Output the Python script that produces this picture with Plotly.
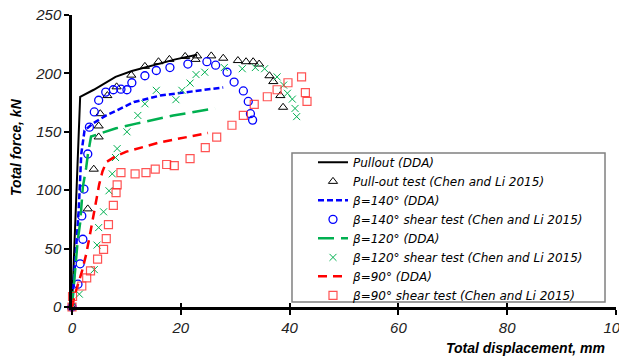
import plotly.graph_objects as go

# ---- data ----
pull_dda_x = [0, 0.5, 1.5, 4, 8, 11, 15, 19, 23]
pull_dda_y = [0, 60, 180, 186, 197, 202, 207, 212, 216]

pull_test_x = [0, 2.9, 4.0, 4.9, 4.9, 5.2, 6.5, 8.2, 10.9, 13.4, 15.9, 17.9, 20.8, 22.7, 23.0,
               25.6, 27.8, 30.5, 32.0, 33.3, 34.4, 36.3, 37.0, 38.3, 38.8]
pull_test_y = [0, 84, 118, 145.6, 155, 165.5, 181, 188.5, 198.5, 206, 210, 212, 214.5, 212, 215,
               215, 213, 211, 210, 210, 208, 198, 193, 181, 171]

b140_dda_x = [0, 0.4, 0.8, 1.2, 1.5, 1.7, 2.3, 3.8, 6.3, 9.6, 11.4, 16.2, 22.3, 27.8]
b140_dda_y = [0, 25, 50, 80, 110, 131, 151, 157, 164, 171, 175.5, 181, 185, 188]

b140_test_x = [0, 1.1, 1.5, 2.0, 1.8, 2.2, 2.9, 3.2, 4.1, 4.9, 6.2, 7.6, 9.0, 10.1, 11.0, 13.4,
               15.5, 18.0, 21.3, 24.8, 26.4, 28.5, 29.8, 31.5, 32.4, 32.8, 33.2]
b140_test_y = [0, 19.5, 37, 58, 78, 101, 131, 154, 167, 177, 184, 186, 186.5, 186, 192, 198,
               202.5, 205, 208, 210, 207, 201, 192.6, 185, 176, 165.5, 160]

b120_dda_x = [0, 0.7, 1.05, 1.5, 2.0, 2.6, 2.9, 3.5, 8.1, 11.8, 18.6, 26.3]
b120_dda_y = [0, 40, 57, 72, 103, 119, 130, 146, 153, 157, 164, 170]

b120_test_x = [0, 1.35, 4.1, 4.6, 4.9, 5.8, 6.8, 7.4, 8.0, 8.3, 10.1, 12.1, 13.4, 15.5, 19.1,
               20.2, 21.7, 22.8, 24.4, 28.0, 31.3, 33.7, 35.4, 37.7, 38.9, 39.6, 40.5, 41.0, 41.3]
b120_test_y = [0, 11, 32, 53, 68, 81.5, 99.5, 114, 128, 135.6, 150, 164, 174, 185.5, 177.5,
               185.5, 191.7, 199, 201, 205, 204, 205, 204, 197, 190, 183, 178, 170, 163]

b90_dda_x = [0, 0.8, 1.8, 2.6, 3.3, 4.2, 5.0, 5.6, 6.3, 8, 10, 16.2, 25]
b90_dda_y = [0, 15, 30, 45, 62, 85, 105, 116, 124, 129, 133, 141, 149]

b90_test_x = [0, 0.1, 1.8, 2.7, 3.4, 4.7, 5.8, 6.3, 6.7, 7.6, 8.1, 8.3, 9.0, 11.6, 13.6, 15.3,
              17.4, 18.8, 21.7, 24.5, 26.6, 29.4, 31.5, 33.5, 35.9, 37.7, 39.7, 42.2, 42.9, 43.2]
b90_test_y = [0, 9, 18, 25, 31, 41, 49.3, 58.5, 70.5, 87, 98, 104.5, 115, 114, 115, 118,
              122, 121, 127, 136.5, 145.5, 155.6, 164, 173.5, 180, 186, 192, 197, 183.5, 176]

x_ticks = [0, 20, 40, 60, 80, 100]
y_ticks = [0, 50, 100, 150, 200, 250]

BLUE = "#0000FF"
GREEN = "#00B050"
RED = "#FF0000"
FONT = "Liberation Sans, Arial, sans-serif"
LEG_FONT = "DejaVu Sans, Liberation Sans, sans-serif"

fig = go.Figure()

fig.add_trace(go.Scatter(x=pull_dda_x, y=pull_dda_y, mode="lines", name="Pullout (DDA)",
                         line=dict(color="black", width=2), cliponaxis=False))
fig.add_trace(go.Scatter(x=pull_test_x, y=pull_test_y, mode="markers",
                         name="Pull-out test (Chen and Li 2015)",
                         marker=dict(symbol="triangle-up-open", size=8, color="black",
                                     line=dict(width=1)), cliponaxis=False))
fig.add_trace(go.Scatter(x=b140_dda_x, y=b140_dda_y, mode="lines", name="β=140° (DDA)",
                         line=dict(color=BLUE, width=2.5, dash="6px,3px"), cliponaxis=False))
fig.add_trace(go.Scatter(x=b140_test_x, y=b140_test_y, mode="markers",
                         name="β=140° shear test (Chen and Li 2015)",
                         marker=dict(symbol="circle-open", size=8, color=BLUE,
                                     line=dict(width=1.3)), cliponaxis=False))
fig.add_trace(go.Scatter(x=b120_dda_x, y=b120_dda_y, mode="lines", name="β=120° (DDA)",
                         line=dict(color=GREEN, width=2.5, dash="16px,7px"), cliponaxis=False))
fig.add_trace(go.Scatter(x=b120_test_x, y=b120_test_y, mode="markers",
                         name="β=120° shear test (Chen and Li 2015)",
                         marker=dict(symbol="x-thin-open", size=7, color=GREEN,
                                     line=dict(width=1, color=GREEN)), cliponaxis=False))
fig.add_trace(go.Scatter(x=b90_dda_x, y=b90_dda_y, mode="lines", name="β=90° (DDA)",
                         line=dict(color=RED, width=2.5, dash="9px,6px"), cliponaxis=False))
fig.add_trace(go.Scatter(x=b90_test_x, y=b90_test_y, mode="markers",
                         name="β=90° shear test (Chen and Li 2015)",
                         marker=dict(symbol="square-open", size=8, color="rgba(255,40,40,0.8)",
                                     line=dict(width=1.2)), cliponaxis=False))
# dummy trace for the inner half of crossing x ticks
fig.add_trace(go.Scatter(x=[None], y=[None], xaxis="x2", showlegend=False, hoverinfo="skip"))

axis_common = dict(showgrid=False, zeroline=False, showline=True, linecolor="black",
                   linewidth=2.5, ticks="outside", ticklen=5, tickwidth=1.5, tickcolor="black",
                   ticklabeloverflow="allow", automargin=False,
                   tickfont=dict(family=FONT, size=15, color="#222", style="italic"))

# page body has an 8px margin, so the figure is sized/offset to compensate
fig.update_layout(
    width=619, height=354,
    margin=dict(l=64, r=11, t=7, b=55, autoexpand=False),
    paper_bgcolor="white", plot_bgcolor="white",
    font=dict(family=FONT),
    xaxis=dict(range=[0, 100], tickvals=x_ticks, **axis_common),
    xaxis2=dict(range=[0, 100], tickvals=x_ticks, overlaying="x", anchor="y", side="bottom",
                showgrid=False, zeroline=False, showline=False, ticks="inside", ticklen=4,
                tickwidth=1.5, tickcolor="black", showticklabels=False, automargin=False),
    yaxis=dict(range=[0, 250], tickvals=y_ticks, **axis_common),
    legend=dict(x=0.443, y=0.545, xanchor="left", yanchor="top",
                bgcolor="rgba(0,0,0,0)", borderwidth=0,
                font=dict(family=LEG_FONT, size=12, color="black", style="italic"),
                tracegroupgap=0),
    showlegend=True,
    shapes=[dict(type="rect", xref="paper", yref="paper", x0=0.4044, x1=0.9798,
                 y0=0.017, y1=0.527, line=dict(color="#808080", width=1.5),
                 fillcolor="white", layer="below")],
    annotations=[
        dict(text="Total displacement, mm", xref="paper", yref="paper", x=0.983, y=-0.140,
             xanchor="right", yanchor="middle", showarrow=False,
             font=dict(family=FONT, size=14, color="black", weight="bold", style="italic")),
        dict(text="Total force, kN", xref="paper", yref="paper", x=-0.103, y=0.548,
             xanchor="center", yanchor="middle", showarrow=False, textangle=-90,
             font=dict(family=FONT, size=14, color="black", weight="bold", style="italic")),
    ],
)

fig.write_html("out.html")
